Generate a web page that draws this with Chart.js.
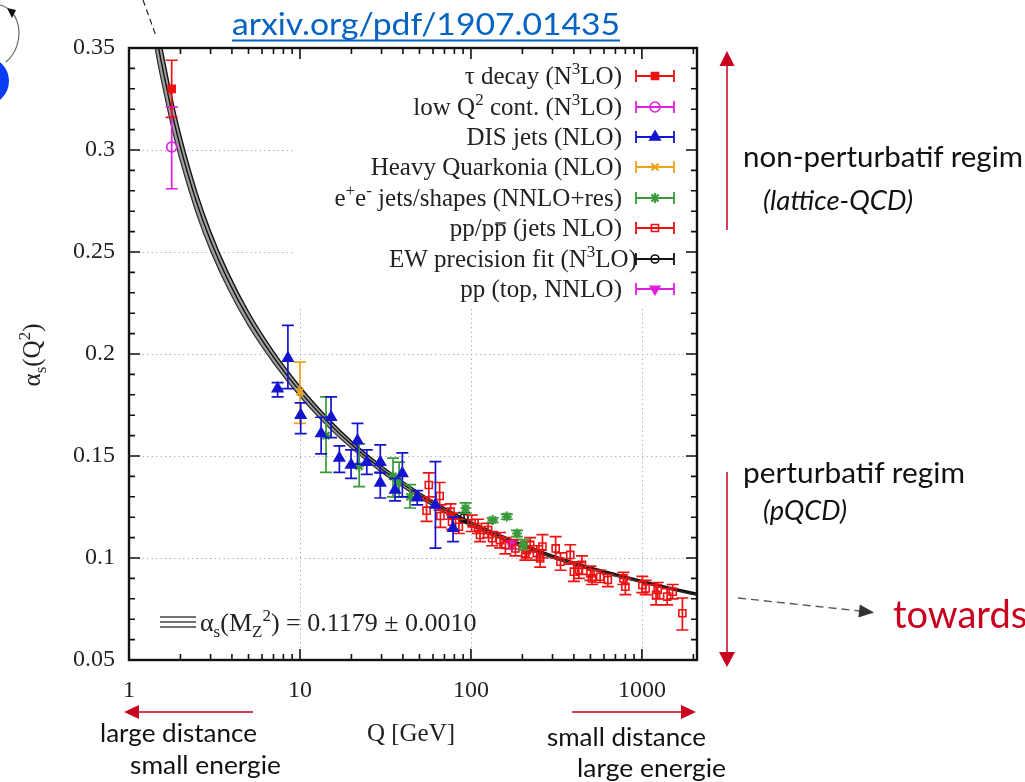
<!DOCTYPE html>
<html><head><meta charset="utf-8">
<script src="https://cdn.jsdelivr.net/npm/chart.js@4.4.1/dist/chart.umd.min.js"></script>
<style>
html,body{margin:0;padding:0;background:#fff;overflow:hidden}
#wrap{position:relative;width:1025px;height:782px}
#c{position:absolute;left:0;top:0}
#ov{position:absolute;left:0;top:0;pointer-events:none}
</style></head><body>
<div id="wrap">
<canvas id="c" width="1025" height="782"></canvas>
<svg id="ov" width="1025" height="782" xmlns="http://www.w3.org/2000/svg">
  <line x1="143" y1="0" x2="156" y2="36" stroke="#222" stroke-width="1.2" stroke-dasharray="6,4"/>
  <path d="M0,5 C 22,10 26,45 6,62" stroke="#666" stroke-width="1.2" fill="none"/>
  <polygon points="7,8 16,10 12,18" fill="#111"/>
  <circle cx="-15" cy="81" r="24" fill="#0a3cf5"/>
  <text x="232" y="35" font-family="Lato, 'Open Sans', sans-serif" font-size="31" fill="#0563C1" textLength="388" lengthAdjust="spacingAndGlyphs">arxiv.org/pdf/1907.01435</text>
  <rect x="232" y="39.5" width="388" height="2" fill="#0563C1"/>
  <line x1="727" y1="230" x2="727" y2="64" stroke="#C9001E" stroke-width="1.5"/>
  <polygon points="727,51 719.5,66 734.5,66" fill="#C9001E"/>
  <line x1="727" y1="472" x2="727" y2="654" stroke="#C9001E" stroke-width="1.5"/>
  <polygon points="727,667 719,652 735,652" fill="#C9001E"/>
  <text x="743" y="167" font-family="Lato, sans-serif" font-size="28" fill="#111" textLength="280" lengthAdjust="spacingAndGlyphs">non-perturbatif regim</text>
  <text x="763" y="210" font-family="Lato, sans-serif" font-style="italic" font-size="27" fill="#111" textLength="150" lengthAdjust="spacingAndGlyphs">(lattice-QCD)</text>
  <text x="743" y="483" font-family="Lato, sans-serif" font-size="28" fill="#111" textLength="222" lengthAdjust="spacingAndGlyphs">perturbatif regim</text>
  <text x="763" y="520" font-family="Lato, sans-serif" font-style="italic" font-size="27" fill="#111" textLength="84" lengthAdjust="spacingAndGlyphs">(pQCD)</text>
  <line x1="738" y1="598" x2="860" y2="611" stroke="#555" stroke-width="1.3" stroke-dasharray="8,5"/>
  <polygon points="874,612.5 858.4,617.4 859.8,604.4" fill="#333"/>
  <text x="893" y="628" font-family="Lato, sans-serif" font-size="38" fill="#C9001E">towards</text>
  <line x1="253" y1="712" x2="138" y2="712" stroke="#C9001E" stroke-width="1.5"/>
  <polygon points="124,712 139,705 139,719" fill="#C9001E"/>
  <line x1="572" y1="712" x2="682" y2="712" stroke="#C9001E" stroke-width="1.5"/>
  <polygon points="696,712 681,705 681,719" fill="#C9001E"/>
  <text x="100" y="742" font-family="Lato, sans-serif" font-size="25" fill="#111" textLength="157" lengthAdjust="spacingAndGlyphs">large distance</text>
  <text x="130" y="774" font-family="Lato, sans-serif" font-size="25" fill="#111" textLength="151" lengthAdjust="spacingAndGlyphs">small energie</text>
  <text x="547" y="746" font-family="Lato, sans-serif" font-size="25" fill="#111" textLength="159" lengthAdjust="spacingAndGlyphs">small distance</text>
  <text x="577" y="777" font-family="Lato, sans-serif" font-size="25" fill="#111" textLength="149" lengthAdjust="spacingAndGlyphs">large energie</text>
</svg>
</div>
<script>
// ---------------- DATA ----------------
const xTickLabels = [1, 10, 100, 1000];
const yTickValues = [0.05, 0.1, 0.15, 0.2, 0.25, 0.3, 0.35];

// fit band
const fitQ       = [1.4, 1.49, 1.6, 1.777, 2, 2.5, 3, 3.8, 5, 7, 10, 15, 20, 30, 50, 70, 91.2, 150, 200, 300, 500, 700, 1000, 1500, 2150];
const fitCentral = [0.363, 0.350, 0.337, 0.3189, 0.3013, 0.2737, 0.2555, 0.2360, 0.2173, 0.1985, 0.1817, 0.1655, 0.1556, 0.1436, 0.1308, 0.1236, 0.1184, 0.1103, 0.1061, 0.1007, 0.0950, 0.0917, 0.0884, 0.0849, 0.0820];
const fitUpper   = [0.3725, 0.3588, 0.3452, 0.3262, 0.3078, 0.2791, 0.2602, 0.2400, 0.2207, 0.2013, 0.1841, 0.1675, 0.1573, 0.1451, 0.1320, 0.1247, 0.1194, 0.1112, 0.1069, 0.1014, 0.0956, 0.0923, 0.0890, 0.0854, 0.0825];
const fitLower   = [0.3535, 0.3412, 0.3288, 0.3116, 0.2948, 0.2683, 0.2508, 0.2320, 0.2139, 0.1957, 0.1793, 0.1635, 0.1539, 0.1421, 0.1296, 0.1225, 0.1174, 0.1094, 0.1053, 0.1000, 0.0944, 0.0911, 0.0878, 0.0844, 0.0815];

const tauQ = [1.777], tauVal = [0.330], tauLo = [0.316], tauHi = [0.344];
const lowQ2Q = [1.777], lowQ2Val = [0.3015], lowQ2Lo = [0.281], lowQ2Hi = [0.321];
const disQ   = [7.4, 8.5, 10.1, 13.3, 15.2, 17.0, 19.9, 21.7, 24.6, 29.5, 29.5, 36, 39.7, 48.5, 62, 78.6];
const disVal = [0.183, 0.198, 0.170, 0.161, 0.169, 0.149, 0.1456, 0.1575, 0.147, 0.147, 0.1368, 0.1333, 0.1415, 0.1295, 0.126, 0.1146];
const disLo  = [0.179, 0.183, 0.161, 0.151, 0.159, 0.142, 0.139, 0.146, 0.141, 0.142, 0.1294, 0.128, 0.130, 0.126, 0.1048, 0.108];
const disHi  = [0.186, 0.214, 0.176, 0.169, 0.179, 0.155, 0.153, 0.166, 0.153, 0.1555, 0.1417, 0.139, 0.1515, 0.133, 0.1472, 0.120];
const hqQ = [10.0], hqVal = [0.1815], hqLo = [0.166], hqHi = [0.196];
const eeQ   = [14.2, 22.2, 35, 38, 44, 93, 134, 162, 186, 203];
const eeVal = [0.160, 0.145, 0.140, 0.137, 0.130, 0.1244, 0.1186, 0.1203, 0.112, 0.1064];
const eeLo  = [0.142, 0.135, 0.130, 0.130, 0.1245, 0.122, 0.1175, 0.119, 0.1105, 0.104];
const eeHi  = [0.179, 0.156, 0.149, 0.147, 0.136, 0.127, 0.1197, 0.1215, 0.1135, 0.109];
const ppQ   = [56.7, 65.6, 55, 66.3, 76, 77.5, 85, 101, 110, 113, 126, 133, 148, 159, 182, 212, 208, 222, 243, 254, 262, 313, 334, 381, 400, 428, 446, 500, 511, 570, 632, 780, 800, 1006, 1052, 1210, 1237, 1405, 1513, 1725];
const ppVal = [0.1358, 0.1304, 0.1232, 0.1206, 0.1227, 0.1178, 0.1153, 0.117, 0.1152, 0.1113, 0.1137, 0.1097, 0.1088, 0.1064, 0.1047, 0.1039, 0.1023, 0.1064, 0.1024, 0.0998, 0.1056, 0.1047, 0.0982, 0.1015, 0.0933, 0.0941, 0.0966, 0.0925, 0.0900, 0.0908, 0.0892, 0.0900, 0.0859, 0.0868, 0.0851, 0.0819, 0.0843, 0.0811, 0.0835, 0.0729];
const ppLo  = [0.130, 0.1235, 0.118, 0.115, 0.119, 0.114, 0.112, 0.113, 0.112, 0.108, 0.110, 0.106, 0.105, 0.102, 0.101, 0.100, 0.099, 0.103, 0.099, 0.0955, 0.100, 0.100, 0.094, 0.097, 0.0885, 0.090, 0.092, 0.089, 0.087, 0.088, 0.086, 0.087, 0.082, 0.083, 0.082, 0.077, 0.080, 0.077, 0.080, 0.0647];
const ppHi  = [0.1417, 0.137, 0.1285, 0.126, 0.1265, 0.122, 0.119, 0.121, 0.119, 0.115, 0.117, 0.113, 0.1125, 0.110, 0.109, 0.108, 0.106, 0.110, 0.106, 0.104, 0.1115, 0.1105, 0.1025, 0.1065, 0.098, 0.098, 0.101, 0.096, 0.094, 0.094, 0.092, 0.093, 0.090, 0.091, 0.089, 0.087, 0.088, 0.085, 0.087, 0.0804];
const ewQ = [91.2], ewVal = [0.1198], ewLo = [0.1175], ewHi = [0.1222];
const topQ = [173], topVal = [0.1064], topLo = [0.1045], topHi = [0.1085];

const legendLabels = [
  [{t:'τ decay (N'},{t:'3',sup:1},{t:'LO)'}],
  [{t:'low Q'},{t:'2',sup:1},{t:' cont. (N'},{t:'3',sup:1},{t:'LO)'}],
  [{t:'DIS jets (NLO)'}],
  [{t:'Heavy Quarkonia (NLO)'}],
  [{t:'e'},{t:'+',sup:1},{t:'e'},{t:'-',sup:1},{t:' jets/shapes (NNLO+res)'}],
  [{t:'pp/p'},{t:'p',bar:1},{t:' (jets NLO)'}],
  [{t:'EW precision fit (N'},{t:'3',sup:1},{t:'LO)'}],
  [{t:'pp (top, NNLO)'}]
];

// ---------------- STYLES ----------------
const SERIF = "'Liberation Serif', 'Times New Roman', serif";
const series = [
  {q:tauQ, v:tauVal, lo:tauLo, hi:tauHi, color:'#ee1111', style:'rect', r:5, fill:true},
  {q:lowQ2Q, v:lowQ2Val, lo:lowQ2Lo, hi:lowQ2Hi, color:'#e01ee0', style:'circle', r:5, fill:false},
  {q:disQ, v:disVal, lo:disLo, hi:disHi, color:'#1515d0', style:'triangle', r:6, fill:true},
  {q:hqQ, v:hqVal, lo:hqLo, hi:hqHi, color:'#f0a318', style:'crossRot', r:5, fill:false},
  {q:eeQ, v:eeVal, lo:eeLo, hi:eeHi, color:'#3a9a3a', style:'star', r:5, fill:true},
  {q:ppQ, v:ppVal, lo:ppLo, hi:ppHi, color:'#ee1111', style:'rect', r:5, fill:false},
  {q:ewQ, v:ewVal, lo:ewLo, hi:ewHi, color:'#111111', style:'circle', r:4, fill:false},
  {q:topQ, v:topVal, lo:topLo, hi:topHi, color:'#e01ee0', style:'triangle', r:5.5, fill:true, rot:180}
];

const toPts = (q, v) => q.map((x, i) => ({x: x, y: v[i]}));

const datasets = [
  {label:'fitUp', data: toPts(fitQ, fitUpper), showLine:true, borderColor:'#111', borderWidth:1.4, pointRadius:0, fill:'+1', backgroundColor:'rgba(120,120,120,0.7)', cubicInterpolationMode:'monotone', order:10},
  {label:'fitLo', data: toPts(fitQ, fitLower), showLine:true, borderColor:'#111', borderWidth:1.4, pointRadius:0, fill:false, cubicInterpolationMode:'monotone', order:10},
  {label:'fitC', data: toPts(fitQ, fitCentral), showLine:true, borderColor:'#111', borderWidth:1.4, pointRadius:0, fill:false, cubicInterpolationMode:'monotone', order:9}
];
series.forEach((s, k) => {
  datasets.push({
    label: 's' + k,
    data: toPts(s.q, s.v),
    errLo: s.lo, errHi: s.hi,
    pointStyle: s.style, pointRadius: s.r, pointRotation: s.rot || 0,
    borderColor: s.color, backgroundColor: s.fill ? s.color : 'rgba(0,0,0,0)',
    borderWidth: s.style === 'crossRot' || s.style === 'star' ? 2.2 : 1.6,
    showLine: false, order: 1
  });
});

// ---------------- HELPERS ----------------
function drawRich(ctx, segs, x, y, align, size, color) {
  const fs = s => (s.sup || s.sub ? Math.round(size * 0.66) : size) + 'px ' + SERIF;
  let w = 0;
  segs.forEach(s => { ctx.font = fs(s); s.w = ctx.measureText(s.t).width; w += s.w; });
  let cx = align === 'right' ? x - w : (align === 'center' ? x - w / 2 : x);
  ctx.fillStyle = color; ctx.textBaseline = 'alphabetic'; ctx.textAlign = 'left';
  segs.forEach(s => {
    ctx.font = fs(s);
    const dy = s.sup ? -size * 0.40 : (s.sub ? size * 0.22 : 0);
    ctx.fillText(s.t, cx, y + dy);
    if (s.bar) {
      ctx.save(); ctx.strokeStyle = color; ctx.lineWidth = 1.4;
      ctx.beginPath(); ctx.moveTo(cx + 1, y - size * 0.52); ctx.lineTo(cx + s.w - 1, y - size * 0.52); ctx.stroke();
      ctx.restore();
    }
    cx += s.w;
  });
  return w;
}
function drawMarker(ctx, s, x, y) {
  ctx.save();
  ctx.strokeStyle = s.color; ctx.fillStyle = s.fill ? s.color : 'rgba(0,0,0,0)';
  ctx.lineWidth = (s.style === 'crossRot' || s.style === 'star') ? 2.2 : 1.6;
  if (Chart.helpers && Chart.helpers.drawPoint) {
    Chart.helpers.drawPoint(ctx, {pointStyle: s.style, radius: s.r, rotation: s.rot || 0, borderWidth: ctx.lineWidth}, x, y);
  } else {
    ctx.beginPath(); ctx.arc(x, y, s.r, 0, Math.PI * 2); if (s.fill) ctx.fill(); ctx.stroke();
  }
  ctx.restore();
}

// ---------------- PLUGINS ----------------
const LEG_BOX = {x1: 295, y2: 305};
const underlay = {
  id: 'underlay',
  beforeDatasetsDraw(chart) {
    const {ctx, chartArea: a, scales: {x, y}} = chart;
    ctx.save();
    ctx.strokeStyle = '#b5b5b5'; ctx.lineWidth = 1; ctx.setLineDash([1.5, 3]);
    [10, 100, 1000].forEach(v => { const px = Math.round(x.getPixelForValue(v)) + 0.5; ctx.beginPath(); ctx.moveTo(px, a.top); ctx.lineTo(px, a.bottom); ctx.stroke(); });
    yTickValues.slice(1, -1).forEach(v => { const py = Math.round(y.getPixelForValue(v)) + 0.5; ctx.beginPath(); ctx.moveTo(a.left, py); ctx.lineTo(a.right, py); ctx.stroke(); });
    ctx.setLineDash([]);
    ctx.fillStyle = '#fff';
    ctx.fillRect(LEG_BOX.x1, a.top + 1, a.right - LEG_BOX.x1 - 1, LEG_BOX.y2 - a.top);
    ctx.restore();
  }
};
const errorBars = {
  id: 'errorBars',
  beforeDatasetDraw(chart, args) {
    const ds = chart.data.datasets[args.index];
    if (!ds.errLo) return;
    const {ctx, chartArea: a, scales: {y}} = chart;
    ctx.save();
    ctx.beginPath(); ctx.rect(a.left, a.top, a.right - a.left, a.bottom - a.top); ctx.clip();
    ctx.strokeStyle = ds.borderColor; ctx.lineWidth = 1.7;
    args.meta.data.forEach((pt, i) => {
      const px = pt.x, y1 = y.getPixelForValue(ds.errLo[i]), y2 = y.getPixelForValue(ds.errHi[i]);
      ctx.beginPath();
      ctx.moveTo(px, y1); ctx.lineTo(px, y2);
      ctx.moveTo(px - 6, y1); ctx.lineTo(px + 6, y1);
      ctx.moveTo(px - 6, y2); ctx.lineTo(px + 6, y2);
      ctx.stroke();
    });
    ctx.restore();
  }
};
const overlay = {
  id: 'overlay',
  afterDraw(chart) {
    const {ctx, chartArea: a, scales: {x, y}} = chart;
    ctx.save();
    ctx.strokeStyle = '#111'; ctx.lineWidth = 2.4;
    ctx.strokeRect(a.left, a.top, a.right - a.left, a.bottom - a.top);
    ctx.lineWidth = 1.6;
    ctx.beginPath();
    for (let d = 1; d <= 1000; d *= 10) {
      for (let m = 1; m <= 9; m++) {
        const v = d * m; if (v > x.max) break;
        const px = x.getPixelForValue(v); const L = m === 1 ? 11 : 6;
        ctx.moveTo(px, a.bottom); ctx.lineTo(px, a.bottom - L);
        ctx.moveTo(px, a.top); ctx.lineTo(px, a.top + L);
      }
    }
    for (let k = 5; k <= 35; k++) {
      const v = k / 100; const py = y.getPixelForValue(v); const L = (k % 5 === 0) ? 11 : 6;
      ctx.moveTo(a.left, py); ctx.lineTo(a.left + L, py);
      ctx.moveTo(a.right, py); ctx.lineTo(a.right - L, py);
    }
    ctx.stroke();

    const rowY = [76, 107, 137, 167, 198, 228, 259, 289];
    legendLabels.forEach((segs, i) => {
      const s = series[i]; const cy = rowY[i];
      drawRich(ctx, segs, i === 6 ? 637 : 622, cy + 8, 'right', 25, '#222');
      ctx.strokeStyle = s.color; ctx.lineWidth = 1.8;
      ctx.beginPath();
      ctx.moveTo(636, cy); ctx.lineTo(674, cy);
      ctx.moveTo(636, cy - 6); ctx.lineTo(636, cy + 6);
      ctx.moveTo(674, cy - 6); ctx.lineTo(674, cy + 6);
      ctx.stroke();
      drawMarker(ctx, s, 655, cy);
    });

    ctx.strokeStyle = '#444'; ctx.lineWidth = 1.6;
    ctx.beginPath();
    [617, 622, 627].forEach(yy => { ctx.moveTo(160, yy); ctx.lineTo(196, yy); });
    ctx.stroke();
    drawRich(ctx, [{t:'α'},{t:'s',sub:1},{t:'(M'},{t:'Z',sub:1},{t:'2',sup:1},{t:') = 0.1179 ± 0.0010'}], 200, 631, 'left', 26, '#222');

    drawRich(ctx, [{t:'Q [GeV]'}], 411, 741, 'center', 25, '#222');
    ctx.save();
    ctx.translate(40, 355); ctx.rotate(-Math.PI / 2);
    drawRich(ctx, [{t:'α'},{t:'s',sub:1},{t:'(Q'},{t:'2',sup:1},{t:')'}], 0, 0, 'center', 25, '#222');
    ctx.restore();
    ctx.restore();
  }
};

// ---------------- CHART ----------------
new Chart(document.getElementById('c'), {
  type: 'scatter',
  data: {datasets},
  options: {
    responsive: false, animation: false, events: [],
    layout: {padding: {left: 0, right: 328, top: 48, bottom: 0}},
    plugins: {legend: {display: false}, tooltip: {enabled: false}},
    scales: {
      x: {
        type: 'logarithmic', min: 1, max: 2100,
        afterFit(s) { s.height = 122; },
        grid: {display: false, drawTicks: false}, border: {display: false},
        ticks: {
          autoSkip: false, maxRotation: 0, padding: 16, color: '#222',
          font: {family: SERIF, size: 24},
          callback: v => xTickLabels.includes(v) ? String(v) : ''
        }
      },
      y: {
        min: 0.05, max: 0.35,
        afterFit(s) { s.width = 129; },
        afterBuildTicks(s) { s.ticks = yTickValues.map(v => ({value: v})); },
        grid: {display: false, drawTicks: false}, border: {display: false},
        ticks: {
          padding: 14, color: '#222', font: {family: SERIF, size: 24},
          callback: v => String(Math.round(v * 100) / 100)
        }
      }
    }
  },
  plugins: [underlay, errorBars, overlay]
});
</script>
</body></html>
